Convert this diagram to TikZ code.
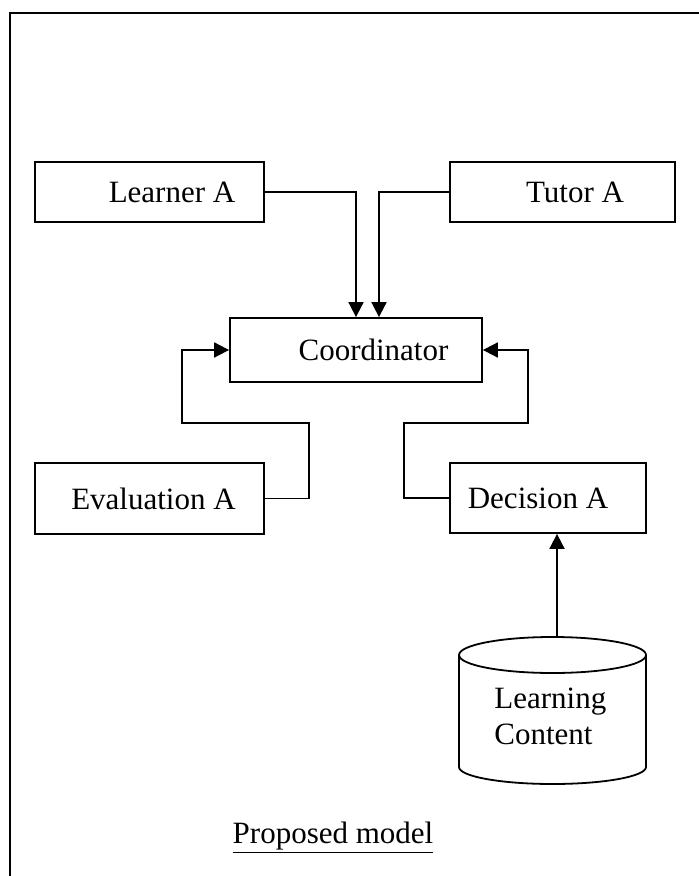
\documentclass[tikz,border=0pt]{standalone}
\usepackage{fontspec}
\setmainfont{Liberation Serif}
\usetikzlibrary{arrows.meta}
\begin{document}
\begin{tikzpicture}[x=0.5pt,y=-0.5pt,
  box/.style={draw, line width=0.9pt, inner sep=0pt, font=\fontsize{15.5}{18}\selectfont},
  arr/.style={line width=0.9pt, -{Triangle[length=7.5pt,width=7.5pt]}},
  lbl/.style={font=\fontsize{15.5}{18}\selectfont, inner sep=0pt}]
\useasboundingbox (0,0) rectangle (698,876);
% frame
\draw[line width=1.2pt] (10,876) -- (10,13) -- (700,13);
% boxes
\node[box, minimum width=114.5pt, minimum height=30pt] (learner) at (149.5,192) {\hspace*{22.5pt}Learner A};
\node[box, minimum width=112.5pt, minimum height=30pt] (tutor) at (562.5,192) {\hspace*{12.5pt}Tutor A};
\node[box, minimum width=126pt, minimum height=32pt] (coord) at (356,350) {\hspace*{17.5pt}Coordinator};
\node[box, minimum width=114.5pt, minimum height=35.5pt] (eval) at (149.5,498.5) {\hspace*{4pt}Evaluation A};
\node[box, minimum width=98pt, minimum height=35pt] (dec) at (548,498) {Decision A\hspace*{10pt}};
% cylinder
\coordinate (cyltop) at (557,637);
\draw[line width=0.9pt] (552.5,655) ellipse [x radius=46.75pt, y radius=9pt];
\draw[line width=0.9pt] (459,655) -- (459,767) arc[start angle=180, end angle=360, x radius=46.75pt, y radius=8.5pt] -- (646,655);
\node[lbl, align=left, anchor=west] (cyltext) at (494,716) {Learning\\Content};
% connectors
\coordinate (e1) at (309,423);
\coordinate (e2) at (182,423);
\coordinate (d1) at (404,423);
\coordinate (d2) at (528,423);
\draw[arr] (learner.east) -| (coord.north);
\draw[arr] (tutor.west) -| ([xshift=11.5pt]coord.north);
\draw[arr] (eval.east) -| (e1) -- (e2) |- (coord.west);
\draw[arr] (dec.west) -| (d1) -- (d2) |- (coord.east);
\draw[arr] (cyltop) -- (cyltop |- dec.south);
% caption
\node[lbl, anchor=base] (caption) at (333,843) {\underline{Proposed model}};
\end{tikzpicture}
\end{document}
